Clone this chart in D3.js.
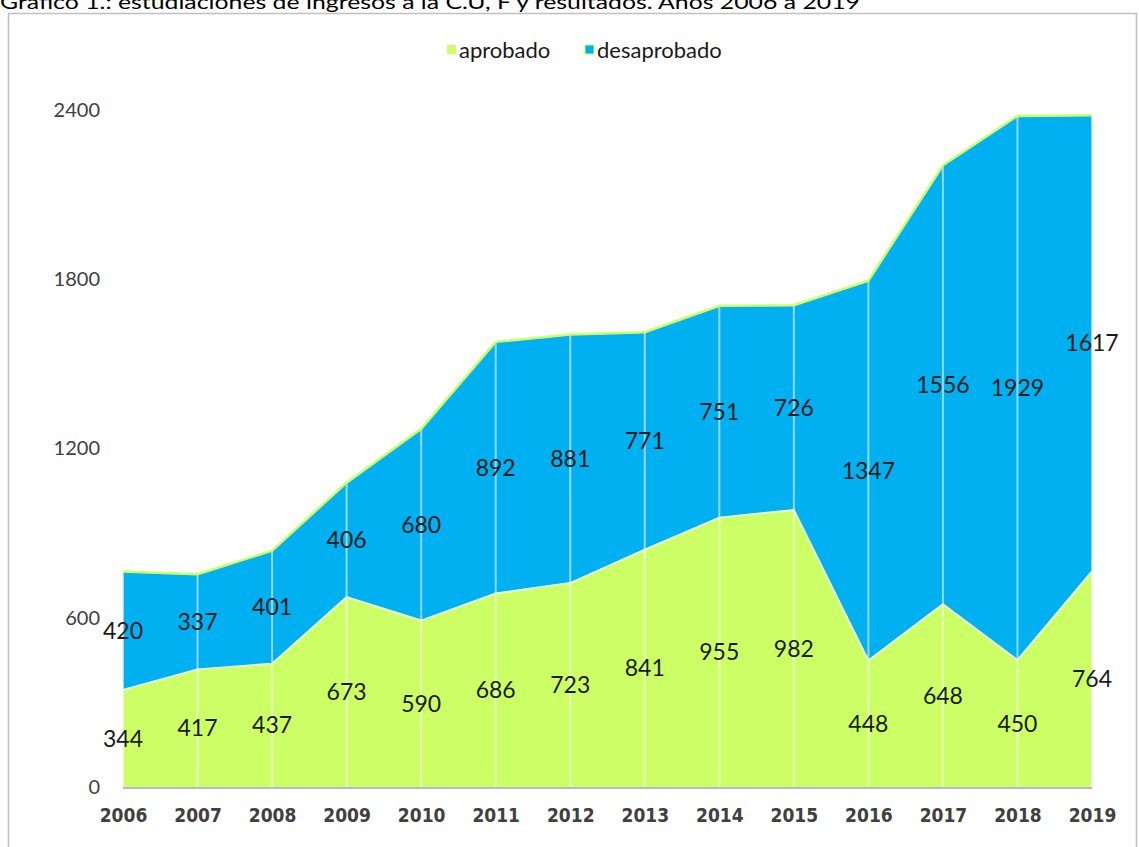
<!DOCTYPE html>
<html>
<head>
<meta charset="utf-8">
<script src="https://cdn.jsdelivr.net/npm/d3@7"></script>
<style>
  html, body { margin: 0; padding: 0; background: #fff; }
  svg { display: block; }
</style>
</head>
<body>
<svg id="chart" width="1139" height="847"></svg>
<script>
const years = ["2006", "2007", "2008", "2009", "2010", "2011", "2012", "2013", "2014", "2015", "2016", "2017", "2018", "2019"];
const aprobado    = [344, 417, 437, 673, 590, 686, 723, 841, 955, 982, 448, 648, 450, 764];
const desaprobado = [420, 337, 401, 406, 680, 892, 881, 771, 751, 726, 1347, 1556, 1929, 1617];
const yTicks = [0, 600, 1200, 1800, 2400];
const seriesNames = ["aprobado", "desaprobado"];
const colors = { aprobado: "#ccff66", desaprobado: "#00b0f0" };
const titleText = "Gráfico 1.: estudiaciones de ingresos a la C.U, F y resultados. Años 2006 a 2019";

const svg = d3.select("#chart");

// title, partly cut off at the top like the source picture
svg.append("text")
    .attr("x", 0).attr("y", 9)
    .attr("font-family", "Lato, 'Open Sans', sans-serif")
    .attr("font-size", 20)
    .attr("fill", "#000")
    .attr("textLength", 860)
    .attr("lengthAdjust", "spacingAndGlyphs")
    .text(titleText);

// frame
svg.append("rect")
    .attr("x", 8.5).attr("y", 13.5)
    .attr("width", 1128).attr("height", 860)
    .attr("fill", "none")
    .attr("stroke", "#bfbfbf")
    .attr("stroke-width", 1.5);

const x = d3.scalePoint().domain(years).range([123, 1092]);
const y = d3.scaleLinear().domain([0, 2400]).range([787, 110]);

const rows = years.map((yr, i) => ({ year: yr, aprobado: aprobado[i], desaprobado: desaprobado[i] }));
const stack = d3.stack().keys(seriesNames)(rows);

const area = d3.area()
    .x(d => x(d.data.year))
    .y0(d => y(d[0]))
    .y1(d => y(d[1]));

svg.append("g").selectAll("path")
    .data(stack)
    .enter().append("path")
    .attr("d", area)
    .attr("fill", d => colors[d.key]);

// vertical lines inside the areas
svg.append("g").selectAll("line")
    .data(stack[1])
    .enter().append("line")
    .attr("x1", d => x(d.data.year)).attr("x2", d => x(d.data.year))
    .attr("y1", y(0)).attr("y2", d => y(d[1]))
    .attr("stroke", "#fff")
    .attr("stroke-opacity", 0.55)
    .attr("stroke-width", 2);

const topLine = d3.line().x(d => x(d.data.year)).y(d => y(d[1]));
svg.append("path")
    .datum(stack[0])
    .attr("d", topLine)
    .attr("fill", "none")
    .attr("stroke", "#eefcc8")
    .attr("stroke-width", 2);
svg.append("path")
    .datum(stack[1])
    .attr("d", topLine)
    .attr("fill", "none")
    .attr("stroke", "#ccff66")
    .attr("stroke-width", 2.5);

// base axis line
svg.append("line")
    .attr("x1", x(years[0])).attr("x2", x(years[years.length - 1]))
    .attr("y1", y(0) + 1).attr("y2", y(0) + 1)
    .attr("stroke", "#b0bcc8")
    .attr("stroke-width", 2);

// y axis labels
const yAxis = d3.axisLeft(y).tickValues(yTicks).tickFormat(d3.format("d")).tickSize(0).tickPadding(0);
const yG = svg.append("g").attr("transform", "translate(100,0)").call(yAxis);
yG.select(".domain").remove();
yG.selectAll("text")
    .attr("font-family", "Lato, 'Open Sans', sans-serif")
    .attr("font-size", 20)
    .attr("fill", "#404040");

// x axis labels
const xAxis = d3.axisBottom(x).tickSize(0).tickPadding(0);
const xG = svg.append("g").attr("transform", "translate(0,808)").call(xAxis);
xG.select(".domain").remove();
xG.selectAll("text")
    .attr("font-family", "'DejaVu Sans Condensed', 'DejaVu Sans', sans-serif")
    .attr("font-stretch", "condensed")
    .attr("font-weight", "bold")
    .attr("font-size", 19)
    .attr("fill", "#404040");

// data labels at the middle of each band
stack.forEach(s => {
    svg.append("g").selectAll("text")
        .data(s)
        .enter().append("text")
        .attr("x", d => x(d.data.year))
        .attr("y", d => y((d[0] + d[1]) / 2))
        .attr("dy", "0.35em")
        .attr("text-anchor", "middle")
        .attr("font-family", "Lato, 'Open Sans', sans-serif")
        .attr("font-size", 23)
        .attr("fill", "#1a1a1a")
        .text(d => d.data[s.key]);
});

// legend
const legend = svg.append("g").attr("transform", "translate(447,50)");
const legendX = [0, 138];
seriesNames.forEach((name, i) => {
    const g = legend.append("g").attr("transform", `translate(${legendX[i]},0)`);
    g.append("rect")
        .attr("x", 0).attr("y", -5)
        .attr("width", 9).attr("height", 9)
        .attr("fill", colors[name])
        .attr("stroke", i === 1 ? "#ccff66" : "none")
        .attr("stroke-width", 1);
    g.append("text")
        .attr("x", 12).attr("y", 0)
        .attr("dy", "0.35em")
        .attr("font-family", "Lato, 'Open Sans', sans-serif")
        .attr("font-size", 22)
        .attr("fill", "#1a1a1a")
        .text(name);
});
</script>
</body>
</html>
